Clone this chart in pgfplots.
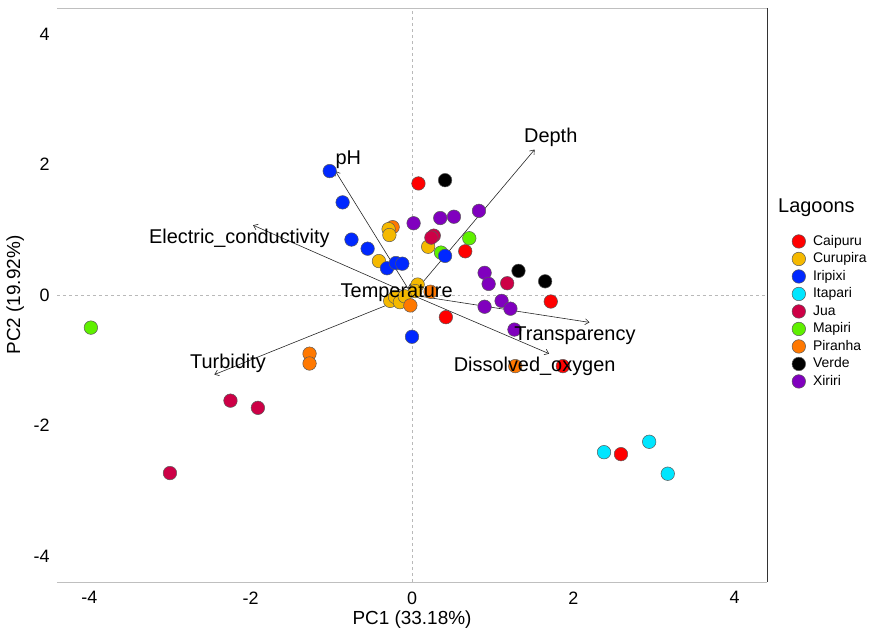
\documentclass[border=0pt]{standalone}
\usepackage{pgfplots}
\pgfplotsset{compat=1.18}
\usepackage{fontspec}
\setmainfont{Liberation Sans}
\usetikzlibrary{arrows.meta}

\definecolor{cCaipuru}{RGB}{255,0,0}
\definecolor{cCurupira}{RGB}{245,185,0}
\definecolor{cIripixi}{RGB}{0,40,255}
\definecolor{cItapari}{RGB}{0,230,255}
\definecolor{cJua}{RGB}{205,0,70}
\definecolor{cMapiri}{RGB}{95,240,0}
\definecolor{cPiranha}{RGB}{255,120,0}
\definecolor{cVerde}{RGB}{0,0,0}
\definecolor{cXiriri}{RGB}{128,0,190}

\pgfplotsset{
  pt/.style={only marks, mark=*, mark size=6.8pt,
    mark options={draw=black!65, line width=0.5pt, fill=#1}},
  load/.style={black!85, line width=0.6pt, -{Straight Barb[length=4pt,width=6pt]}},
}
\tikzset{lbl/.style={font=\fontsize{20}{24}\selectfont, inner sep=0pt}}

\begin{document}
\begin{tikzpicture}
\path[use as bounding box] (-57bp,-48bp) rectangle (815bp,582bp);
\begin{axis}[
  at={(0,0)}, anchor=south west,
  scale only axis, width=710bp, height=574bp,
  xmin=-4.4, xmax=4.4, ymin=-4.4, ymax=4.4,
  xtick={-4,-2,0,2,4}, ytick={-4,-2,0,2,4},
  tick style={draw=none},
  axis line style={draw=none},
  /pgf/number format/assume math mode=true,
  ticklabel style={font=\fontsize{18}{20}\selectfont},
  xticklabel style={yshift=-6bp},
  yticklabel style={xshift=-4bp},
  xlabel={PC1 (33.18\%)}, ylabel={PC2 (19.92\%)},
  every axis x label/.style={at={(axis description cs:0.5,-0.066)}, anchor=center,
    font=\fontsize{19}{22}\selectfont},
  every axis y label/.style={at={(axis description cs:-0.059,0.5)}, rotate=90, anchor=center,
    font=\fontsize{19}{22}\selectfont},
  clip=false,
  legend style={at={(axis description cs:1.035,0.608)}, anchor=north west,
    draw=none, fill=none, inner sep=0pt, row sep=1bp,
    font=\fontsize{14}{16}\selectfont,
    nodes={inner sep=1.5bp, text height=10.5bp, text depth=3bp},
    /tikz/every odd column/.append style={column sep=6bp}},
  legend cell align=left,
  legend image code/.code={\draw[#1] plot coordinates {(0bp,0bp)};},
]
% zero lines
\addplot[gray!55, dashed, line width=0.5pt, forget plot] coordinates {(-4.4,0) (4.4,0)};
\addplot[gray!55, dashed, line width=0.5pt, forget plot] coordinates {(0,-4.4) (0,4.4)};
% frame
\draw[gray!50, line width=0.8pt] (rel axis cs:0,1) -- (rel axis cs:1,1);
\draw[gray!50, line width=0.8pt] (rel axis cs:0,0) -- (rel axis cs:1,0);
\draw[black!80, line width=0.6pt] (rel axis cs:1,0) -- (rel axis cs:1,1);

% scores
\addplot[pt=cPiranha, forget plot] coordinates {(-0.24,1.04) (-1.27,-0.90) (-1.27,-1.05) (1.28,-1.09) (0.23,0.05)};
\addplot[pt=cCurupira, forget plot] coordinates {(-0.29,1.01) (-0.28,0.92) (-0.41,0.52) (0.20,0.74) (0.07,0.16) (0.04,0.06) (-0.27,-0.09) (-0.21,-0.03) (-0.15,-0.11) (-0.09,-0.02)};
\addplot[pt=cPiranha, forget plot] coordinates {(-0.02,-0.16)};
\addplot[pt=cCaipuru, forget plot] coordinates {(0.08,1.71) (0.66,0.67) (1.72,-0.10) (0.42,-0.34) (1.87,-1.09) (2.59,-2.44)};
\addplot[pt=cJua, forget plot] coordinates {(0.27,0.91) (0.24,0.88) (1.18,0.18) (-2.25,-1.62) (-1.91,-1.73) (-3.00,-2.73)};
\addplot[pt=cMapiri, forget plot] coordinates {(-3.98,-0.50) (0.36,0.65) (0.71,0.87)};
\addplot[pt=cIripixi, forget plot] coordinates {(-1.02,1.90) (-0.86,1.42) (-0.75,0.85) (-0.55,0.71) (-0.31,0.41) (-0.20,0.49) (-0.12,0.48) (0.41,0.60) (0.00,-0.64)};
\addplot[pt=cItapari, forget plot] coordinates {(2.38,-2.41) (2.94,-2.25) (3.17,-2.74)};
\addplot[pt=cVerde, forget plot] coordinates {(0.41,1.76) (1.32,0.37) (1.65,0.21)};
\addplot[pt=cXiriri, forget plot] coordinates {(0.02,1.10) (0.35,1.18) (0.52,1.20) (0.83,1.29) (0.90,0.34) (0.95,0.17) (0.90,-0.18) (1.11,-0.09) (1.22,-0.21) (1.27,-0.53)};

% loadings
\addplot[load, forget plot] coordinates {(0,0) (-0.95,1.90)};
\addplot[load, forget plot] coordinates {(0,0) (1.52,2.23)};
\addplot[load, forget plot] coordinates {(0,0) (-1.97,1.07)};
\addplot[load, forget plot] coordinates {(0,0) (-0.02,0.18)};
\addplot[load, forget plot] coordinates {(0,0) (2.20,-0.42)};
\addplot[load, forget plot] coordinates {(0,0) (1.70,-0.90)};
\addplot[load, forget plot] coordinates {(0,0) (-2.45,-1.22)};

% loading labels, drawn on top
\addplot[only marks, mark=none, forget plot, point meta=explicit symbolic,
  nodes near coords, nodes near coords align={center},
  every node near coord/.append style={lbl, anchor=center, text=black}]
  coordinates {
  (-0.79,2.08) [pH]
  (1.72,2.41) [Depth]
  (-2.14,0.87) [Electric\_conductivity]
  (-0.19,0.03) [Temperature]
  (2.02,-0.63) [Transparency]
  (1.52,-1.10) [Dissolved\_oxygen]
  (-2.28,-1.05) [Turbidity]
  };

% legend
\node[anchor=west, font=\fontsize{20}{24}\selectfont, inner sep=0pt] at (axis description cs:1.0155,0.6516) {Lagoons};
\addlegendimage{pt=cCaipuru}\addlegendentry{Caipuru}
\addlegendimage{pt=cCurupira}\addlegendentry{Curupira}
\addlegendimage{pt=cIripixi}\addlegendentry{Iripixi}
\addlegendimage{pt=cItapari}\addlegendentry{Itapari}
\addlegendimage{pt=cJua}\addlegendentry{Jua}
\addlegendimage{pt=cMapiri}\addlegendentry{Mapiri}
\addlegendimage{pt=cPiranha}\addlegendentry{Piranha}
\addlegendimage{pt=cVerde}\addlegendentry{Verde}
\addlegendimage{pt=cXiriri}\addlegendentry{Xiriri}
\end{axis}
\end{tikzpicture}
\end{document}
